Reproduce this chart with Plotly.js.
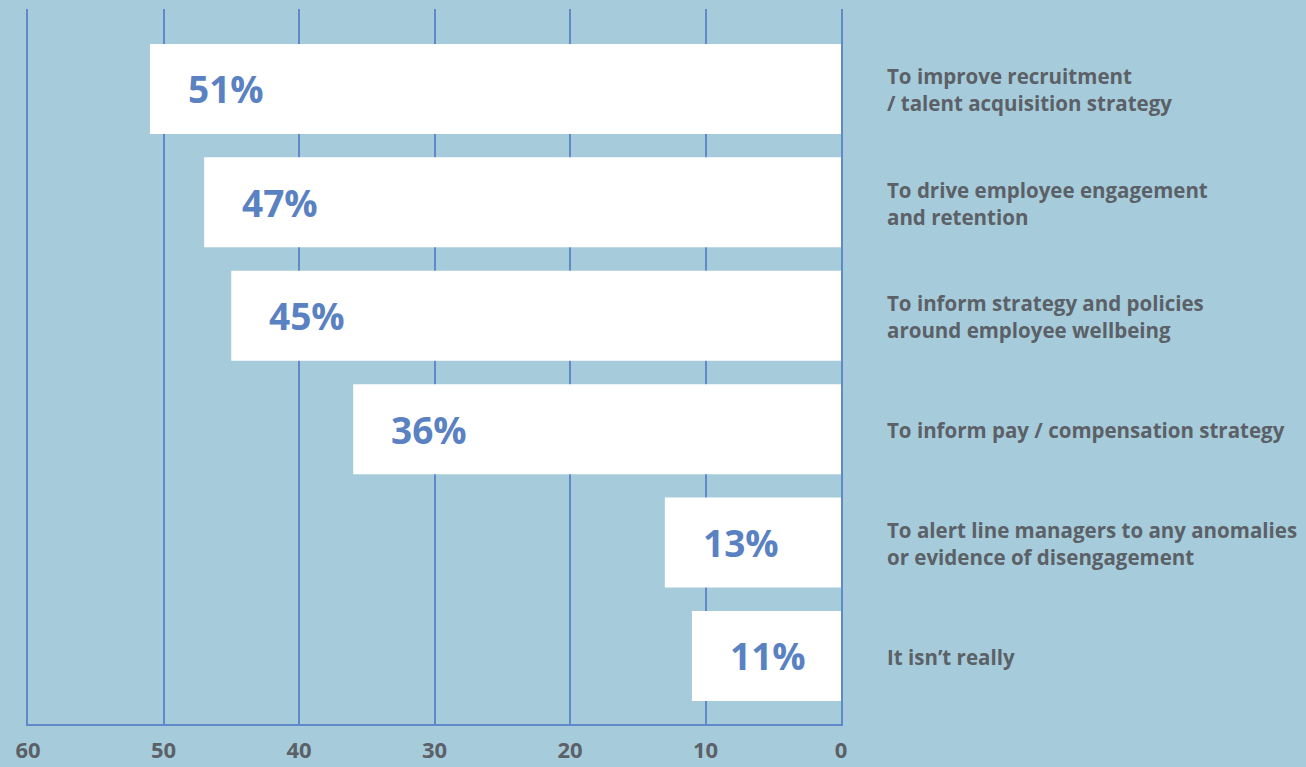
<!DOCTYPE html>
<html>
<head>
<meta charset="utf-8">
<script src="https://cdn.plot.ly/plotly-3.0.1.min.js"></script>
<style>
  html, body { margin: 0; padding: 0; background: #a6ccdb; }
  #chart { width: 1306px; height: 767px; }
</style>
</head>
<body>
<div id="chart"></div>
<script>
const categories = [
  "To improve recruitment<br>/ talent acquisition strategy",
  "To drive employee engagement<br>and retention",
  "To inform strategy and policies<br>around employee wellbeing",
  "To inform pay / compensation strategy",
  "To alert line managers to any anomalies<br>or evidence of disengagement",
  "It isn\u2019t really"
];
const values = [51, 47, 45, 36, 13, 11];
const valueLabels = ["51%", "47%", "45%", "36%", "13%", "11%"];
const tickValues = [60, 50, 40, 30, 20, 10, 0];
const tickLabels = ["60", "50", "40", "30", "20", "10", "0"];

const bg = "#a6ccdb";
const gridColor = "#6189c9";
const labelBlue = "#5a82c2";
const grey = "#5c6067";
const fontFam = "'Open Sans', 'Noto Sans', sans-serif";

const trace = {
  type: "bar",
  orientation: "h",
  x: values,
  y: categories,
  marker: { color: "#ffffff", line: { width: 0 } },
  width: 0.794,
  hoverinfo: "none"
};

const annotations = [];
categories.forEach((c, i) => {
  annotations.push({
    xref: "x", yref: "y", x: values[i], y: c,
    text: valueLabels[i], showarrow: false,
    xanchor: "left", yanchor: "middle", xshift: 36,
    font: { family: fontFam, size: 37, color: labelBlue, weight: 700 }
  });
  annotations.push({
    xref: "x", yref: "y", x: 0, y: c,
    text: c, showarrow: false, align: "left",
    xanchor: "left", yanchor: "middle", xshift: 44, yshift: -1,
    font: { family: fontFam, size: 20.5, color: grey, weight: 700 }
  });
});

const layout = {
  width: 1306, height: 767,
  margin: { l: 28, r: 465, t: 9, b: 43 },
  paper_bgcolor: bg, plot_bgcolor: bg,
  showlegend: false,
  xaxis: {
    range: [60, 0], autorange: false,
    tickvals: tickValues, ticktext: tickLabels,
    showgrid: true, gridcolor: gridColor, gridwidth: 2,
    zeroline: false,
    showline: true, linecolor: gridColor, linewidth: 2,
    ticks: "", ticklabelstandoff: 6,
    tickfont: { family: fontFam, size: 22, color: grey, weight: 700 },
    layer: "below traces"
  },
  yaxis: {
    type: "category",
    categoryorder: "array", categoryarray: categories,
    range: [5.6, -0.705], autorange: false,
    showticklabels: false, showgrid: false, zeroline: false,
    showline: true, mirror: true, linecolor: gridColor, linewidth: 2,
    ticks: "", layer: "below traces"
  },
  annotations: annotations
};

Plotly.newPlot("chart", [trace], layout, { displayModeBar: false, staticPlot: true });
</script>
</body>
</html>
